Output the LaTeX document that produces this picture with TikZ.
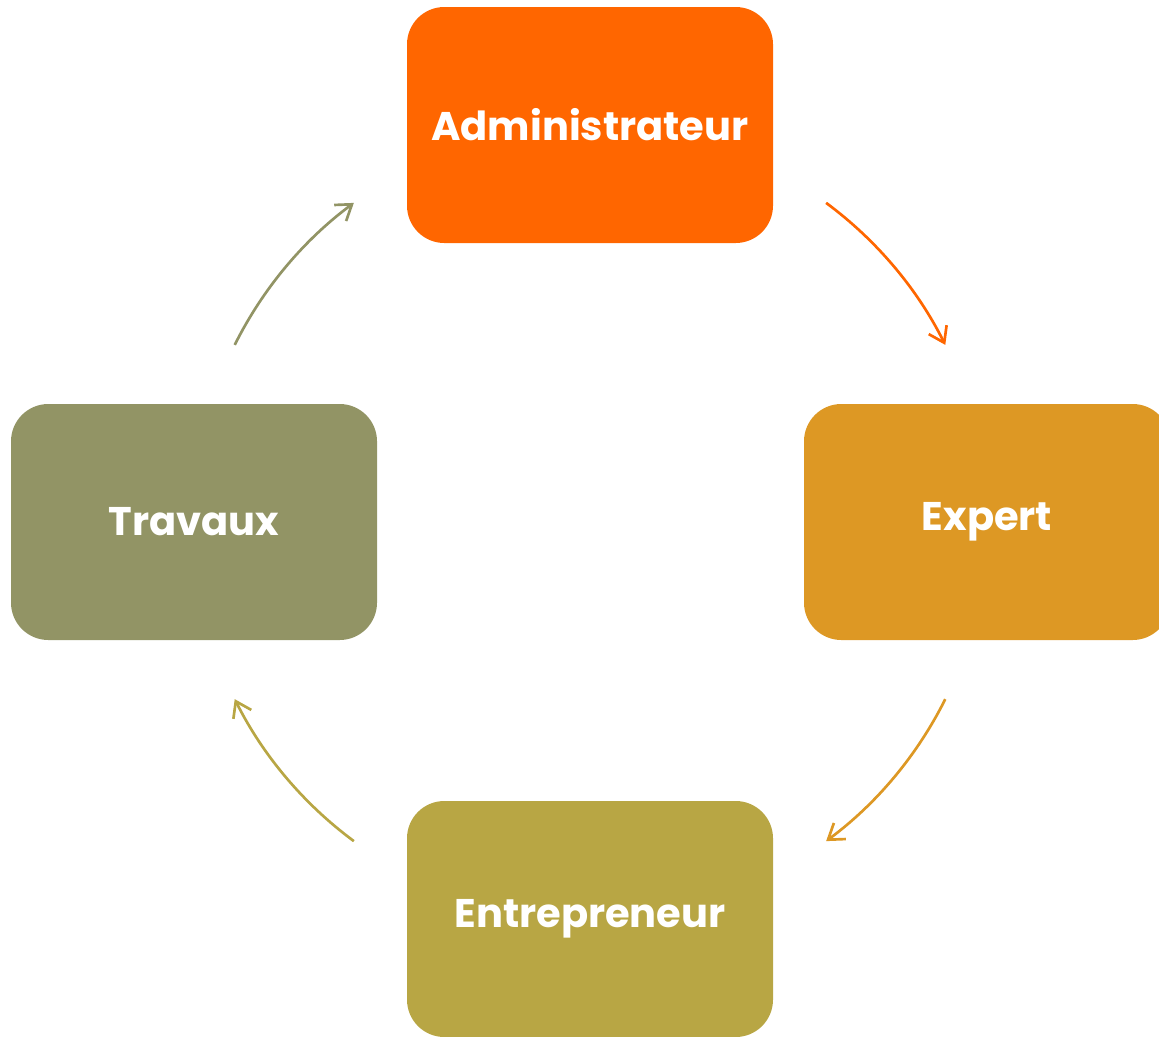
\documentclass[tikz,border=0pt]{standalone}
\usepackage{fontspec}
\setmainfont{Poppins}
\usetikzlibrary{arrows.meta,calc}
\definecolor{admcol}{RGB}{255,102,0}
\definecolor{expcol}{RGB}{221,152,36}
\definecolor{entcol}{RGB}{184,166,68}
\definecolor{trvcol}{RGB}{146,148,101}
\tikzset{
	box/.style={rounded corners=28pt, minimum width=274.5pt, minimum height=177pt,
		inner sep=0pt, text=white, font=\fontsize{30}{36}\selectfont\bfseries},
	cyc/.style={line width=2pt, -{Straight Barb[length=11pt,width=15pt,line width=2pt]}}
}
\begin{document}
\begin{tikzpicture}[x=0.75pt,y=0.75pt,yscale=-1,xscale=1]
	\useasboundingbox (0,0) rectangle (1159,1036);
	
	% boxes
	\node[box, fill=admcol] (adm) at (590,125) {Administrateur};
	\node[box, fill=expcol] (exp) at (987,522) {Expert};
	\node[box, fill=entcol] (ent) at (590,919) {Entrepreneur};
	\node[box, fill=trvcol] (trv) at (194,522) {Travaux};
	
	% cycle arcs
	\coordinate (ctr) at (590,522);
	\coordinate (s1) at ($(ctr)+(-53.5:397)$);
	\coordinate (s2) at ($(ctr)+(26.5:397)$);
	\coordinate (s3) at ($(ctr)+(126.5:397)$);
	\coordinate (s4) at ($(ctr)+(206.5:397)$);
	\draw[cyc, admcol] (s1) arc[start angle=-53.5, end angle=-26.5, radius=397];
	\draw[cyc, expcol] (s2) arc[start angle=26.5, end angle=53.5, radius=397];
	\draw[cyc, entcol] (s3) arc[start angle=126.5, end angle=153.5, radius=397];
	\draw[cyc, trvcol] (s4) arc[start angle=206.5, end angle=233.5, radius=397];
\end{tikzpicture}
\end{document}
